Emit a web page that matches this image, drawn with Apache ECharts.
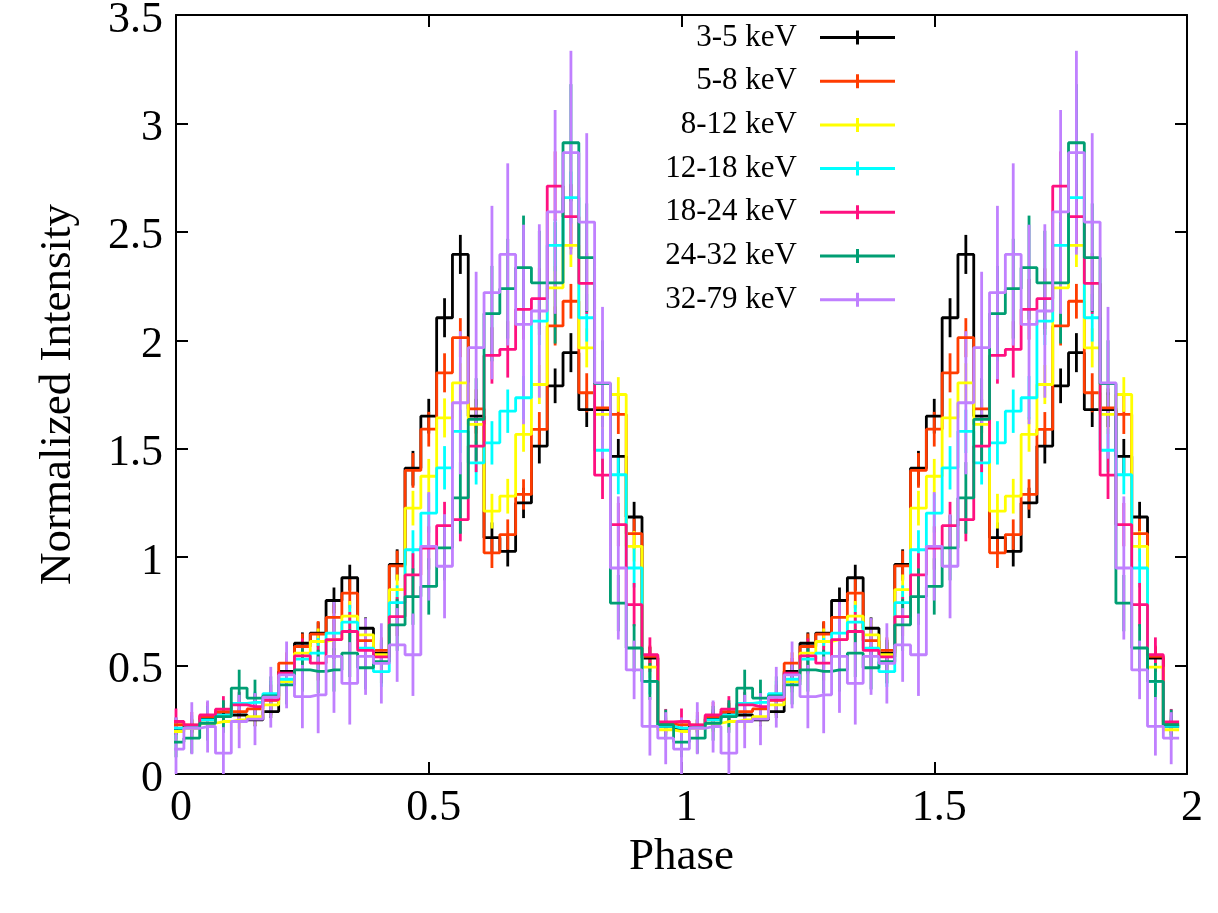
<!DOCTYPE html>
<html>
<head>
<meta charset="utf-8">
<title>Pulse profiles</title>
<script src="https://cdn.jsdelivr.net/npm/echarts@6/dist/echarts.min.js"></script>
<style>
  html, body { margin: 0; padding: 0; background: #fff; }
  #chart { width: 1218px; height: 913px; }
</style>
</head>
<body>
<div id="chart"></div>
<script>
// energy bands (legend labels) and their colours
const bands = ['3-5 keV', '5-8 keV', '8-12 keV', '12-18 keV', '18-24 keV', '24-32 keV', '32-79 keV'];
const colors = ['#000000', '#ff3c00', '#ffff00', '#00ffff', '#ff1080', '#009e73', '#c080ff'];

// 32 phase bins, plotted over two cycles
const nBins = 32;
const phase = Array.from({length: nBins}, (_, i) => i / nBins);

// normalized intensity per band, one value per phase bin
const band3_5 = [0.21, 0.22, 0.255, 0.272, 0.272, 0.25, 0.288, 0.473, 0.603, 0.65, 0.80, 0.905, 0.672, 0.557, 0.966, 1.41,
  1.65, 2.104, 2.396, 1.65, 1.09, 1.027, 1.25, 1.512, 1.79, 1.943, 1.68, 1.68, 1.465, 1.185, 0.535, 0.22];
const band5_8 = [0.227, 0.225, 0.265, 0.288, 0.288, 0.30, 0.34, 0.511, 0.588, 0.645, 0.722, 0.834, 0.615, 0.57, 0.96, 1.40,
  1.59, 1.85, 2.012, 1.684, 1.02, 1.104, 1.289, 1.589, 2.066, 2.18, 1.758, 1.688, 1.658, 1.108, 0.542, 0.23];
const band8_12 = [0.196, 0.211, 0.234, 0.242, 0.249, 0.265, 0.319, 0.426, 0.557, 0.611, 0.62, 0.728, 0.642, 0.55, 0.85, 1.226,
  1.373, 1.642, 1.804, 1.612, 1.212, 1.281, 1.566, 1.796, 2.242, 2.438, 1.965, 1.658, 1.75, 1.05, 0.493, 0.204];
const band12_18 = [0.212, 0.22, 0.25, 0.27, 0.326, 0.33, 0.37, 0.437, 0.53, 0.557, 0.65, 0.70, 0.58, 0.472, 0.79, 1.034,
  1.203, 1.412, 1.58, 1.435, 1.527, 1.673, 1.735, 2.088, 2.438, 2.658, 2.104, 1.493, 1.38, 0.95, 0.427, 0.22];
const band18_24 = [0.242, 0.226, 0.272, 0.299, 0.319, 0.311, 0.342, 0.465, 0.545, 0.511, 0.62, 0.657, 0.57, 0.54, 0.726, 0.918,
  1.042, 1.145, 1.173, 1.512, 1.93, 1.958, 2.143, 2.192, 2.711, 2.57, 2.262, 1.378, 1.15, 0.781, 0.55, 0.24];
const band24_32 = [0.147, 0.165, 0.234, 0.265, 0.396, 0.35, 0.36, 0.411, 0.48, 0.473, 0.48, 0.557, 0.49, 0.518, 0.688, 0.818,
  0.865, 1.043, 1.273, 1.635, 2.123, 2.238, 2.335, 2.265, 2.265, 2.911, 2.381, 1.80, 0.788, 0.581, 0.427, 0.227];
const band32_79 = [0.115, 0.211, 0.219, 0.096, 0.242, 0.253, 0.354, 0.457, 0.357, 0.365, 0.542, 0.418, 0.542, 0.51, 0.595, 0.55,
  1.05, 0.958, 1.712, 1.966, 2.22, 2.396, 2.073, 2.135, 2.592, 2.865, 2.545, 1.804, 0.95, 0.48, 0.22, 0.165];

// 1-sigma errors (half length of the error bars)
const err3_5 = [0.03, 0.03, 0.03, 0.03, 0.03, 0.03, 0.03, 0.04, 0.05, 0.05, 0.06, 0.06, 0.05, 0.05, 0.07, 0.08,
  0.08, 0.09, 0.09, 0.08, 0.07, 0.07, 0.07, 0.08, 0.08, 0.09, 0.08, 0.08, 0.08, 0.07, 0.05, 0.03];
const err5_8 = [0.03, 0.03, 0.03, 0.04, 0.04, 0.04, 0.04, 0.05, 0.06, 0.06, 0.06, 0.07, 0.06, 0.06, 0.07, 0.08,
  0.08, 0.09, 0.09, 0.09, 0.07, 0.07, 0.07, 0.08, 0.09, 0.08, 0.09, 0.09, 0.09, 0.07, 0.05, 0.03];
const err8_12 = [0.04, 0.04, 0.04, 0.04, 0.04, 0.04, 0.05, 0.05, 0.06, 0.06, 0.07, 0.07, 0.07, 0.06, 0.07, 0.08,
  0.08, 0.09, 0.09, 0.09, 0.08, 0.08, 0.08, 0.09, 0.10, 0.10, 0.09, 0.09, 0.08, 0.07, 0.05, 0.04];
const err12_18 = [0.05, 0.05, 0.05, 0.05, 0.05, 0.05, 0.06, 0.06, 0.07, 0.07, 0.08, 0.08, 0.07, 0.07, 0.08, 0.09,
  0.09, 0.10, 0.10, 0.10, 0.10, 0.10, 0.10, 0.11, 0.12, 0.12, 0.11, 0.10, 0.09, 0.09, 0.06, 0.05];
const err18_24 = [0.06, 0.06, 0.06, 0.06, 0.06, 0.06, 0.07, 0.07, 0.08, 0.08, 0.09, 0.09, 0.08, 0.08, 0.09, 0.10,
  0.10, 0.11, 0.10, 0.12, 0.13, 0.13, 0.14, 0.14, 0.16, 0.15, 0.14, 0.11, 0.10, 0.10, 0.08, 0.06];
const err24_32 = [0.07, 0.07, 0.08, 0.075, 0.085, 0.085, 0.09, 0.09, 0.10, 0.10, 0.10, 0.11, 0.10, 0.10, 0.12, 0.13,
  0.13, 0.15, 0.165, 0.19, 0.22, 0.23, 0.24, 0.24, 0.28, 0.27, 0.25, 0.20, 0.13, 0.11, 0.085, 0.07];
const err32_79 = [0.146, 0.12, 0.12, 0.12, 0.123, 0.12, 0.14, 0.154, 0.146, 0.177, 0.26, 0.19, 0.177, 0.185, 0.17, 0.19,
  0.25, 0.24, 0.33, 0.35, 0.40, 0.42, 0.46, 0.40, 0.47, 0.47, 0.41, 0.35, 0.33, 0.135, 0.135, 0.12];

const values = [band3_5, band5_8, band8_12, band12_18, band18_24, band24_32, band32_79];
const errors = [err3_5, err5_8, err8_12, err12_18, err18_24, err24_32, err32_79];

const FONT = 'Liberation Serif, Times New Roman, serif';
const LW = 2.8;

// histogram steps (gnuplot histeps): half a bin beyond each end
function stepData(vals) {
  let pts = [[-0.5 / nBins, vals[0]]];
  for (let c = 0; c < 2; c++) {
    vals.forEach((v, i) => pts.push([c + phase[i], v]));
  }
  pts.push([2 - 0.5 / nBins, vals[nBins - 1]]);
  return pts;
}

function errData(vals, errs) {
  let pts = [];
  for (let c = 0; c < 2; c++) {
    vals.forEach((v, i) => pts.push([c + phase[i], Math.max(0, v - errs[i]), v + errs[i]]));
  }
  return pts;
}

let series = [];
bands.forEach((name, k) => {
  series.push({
    name: name,
    type: 'line',
    step: 'middle',
    symbol: 'none',
    clip: false,
    color: colors[k],
    lineStyle: {color: colors[k], width: LW},
    data: stepData(values[k]),
    z: 2
  });
  series.push({
    name: name,
    type: 'custom',
    color: colors[k],
    encode: {x: 0, y: [1, 2]},
    data: errData(values[k], errors[k]),
    renderItem: function (params, api) {
      let lo = api.coord([api.value(0), api.value(1)]);
      let hi = api.coord([api.value(0), api.value(2)]);
      return {
        type: 'line',
        shape: {x1: lo[0], y1: lo[1], x2: hi[0], y2: hi[1]},
        style: {stroke: colors[k], lineWidth: LW}
      };
    },
    z: 2
  });
});

const axisLine = {show: true, onZero: false, lineStyle: {color: '#000', width: 2}};
const axisTick = {show: true, inside: true, length: 12, lineStyle: {color: '#000', width: 2}};
const tickFont = {fontFamily: FONT, fontSize: 44, color: '#000'};

let myChart = echarts.init(document.getElementById('chart'));
let option = {
  animation: false,
  backgroundColor: '#fff',
  grid: {left: 176, right: 31, top: 15, bottom: 139, containLabel: false, outerBoundsMode: 'none'},
  legend: {
    orient: 'vertical',
    right: 323,
    top: 22,
    padding: 0,
    align: 'right',
    itemWidth: 75,
    itemHeight: 14,
    itemGap: 12.7,
    selectedMode: false,
    textStyle: {fontFamily: FONT, fontSize: 31, color: '#000', padding: [0, 18, 0, 0]},
    data: bands.map((b, k) => ({
      name: b,
      icon: 'path://M0,5.5H75V8.5H0Z M36,0H39V14H36Z',
      itemStyle: {color: colors[k]}
    }))
  },
  xAxis: [
    {
      type: 'value', min: 0, max: 2, interval: 0.5, position: 'bottom',
      name: 'Phase', nameLocation: 'middle', nameGap: 56,
      nameTextStyle: {fontFamily: FONT, fontSize: 45, color: '#000'},
      axisLine: axisLine, axisTick: axisTick,
      axisLabel: Object.assign({margin: 12, padding: [0, 0, 0, 10]}, tickFont),
      splitLine: {show: false}
    },
    {
      type: 'value', min: 0, max: 2, interval: 0.5, position: 'top',
      axisLine: axisLine, axisTick: axisTick,
      axisLabel: {show: false}, splitLine: {show: false}
    }
  ],
  yAxis: [
    {
      type: 'value', min: 0, max: 3.5, interval: 0.5, position: 'left',
      name: 'Normalized Intensity', nameLocation: 'middle', nameGap: 95,
      nameTextStyle: {fontFamily: FONT, fontSize: 45, color: '#000'},
      axisLine: axisLine, axisTick: axisTick,
      axisLabel: {
        margin: 13,
        formatter: '{v|{value}}',
        rich: {v: Object.assign({padding: [10, 0, 0, 0]}, tickFont)}
      },
      splitLine: {show: false}
    },
    {
      type: 'value', min: 0, max: 3.5, interval: 0.5, position: 'right',
      axisLine: axisLine, axisTick: axisTick,
      axisLabel: {show: false}, splitLine: {show: false}
    }
  ],
  series: series
};
myChart.setOption(option);
</script>
</body>
</html>
